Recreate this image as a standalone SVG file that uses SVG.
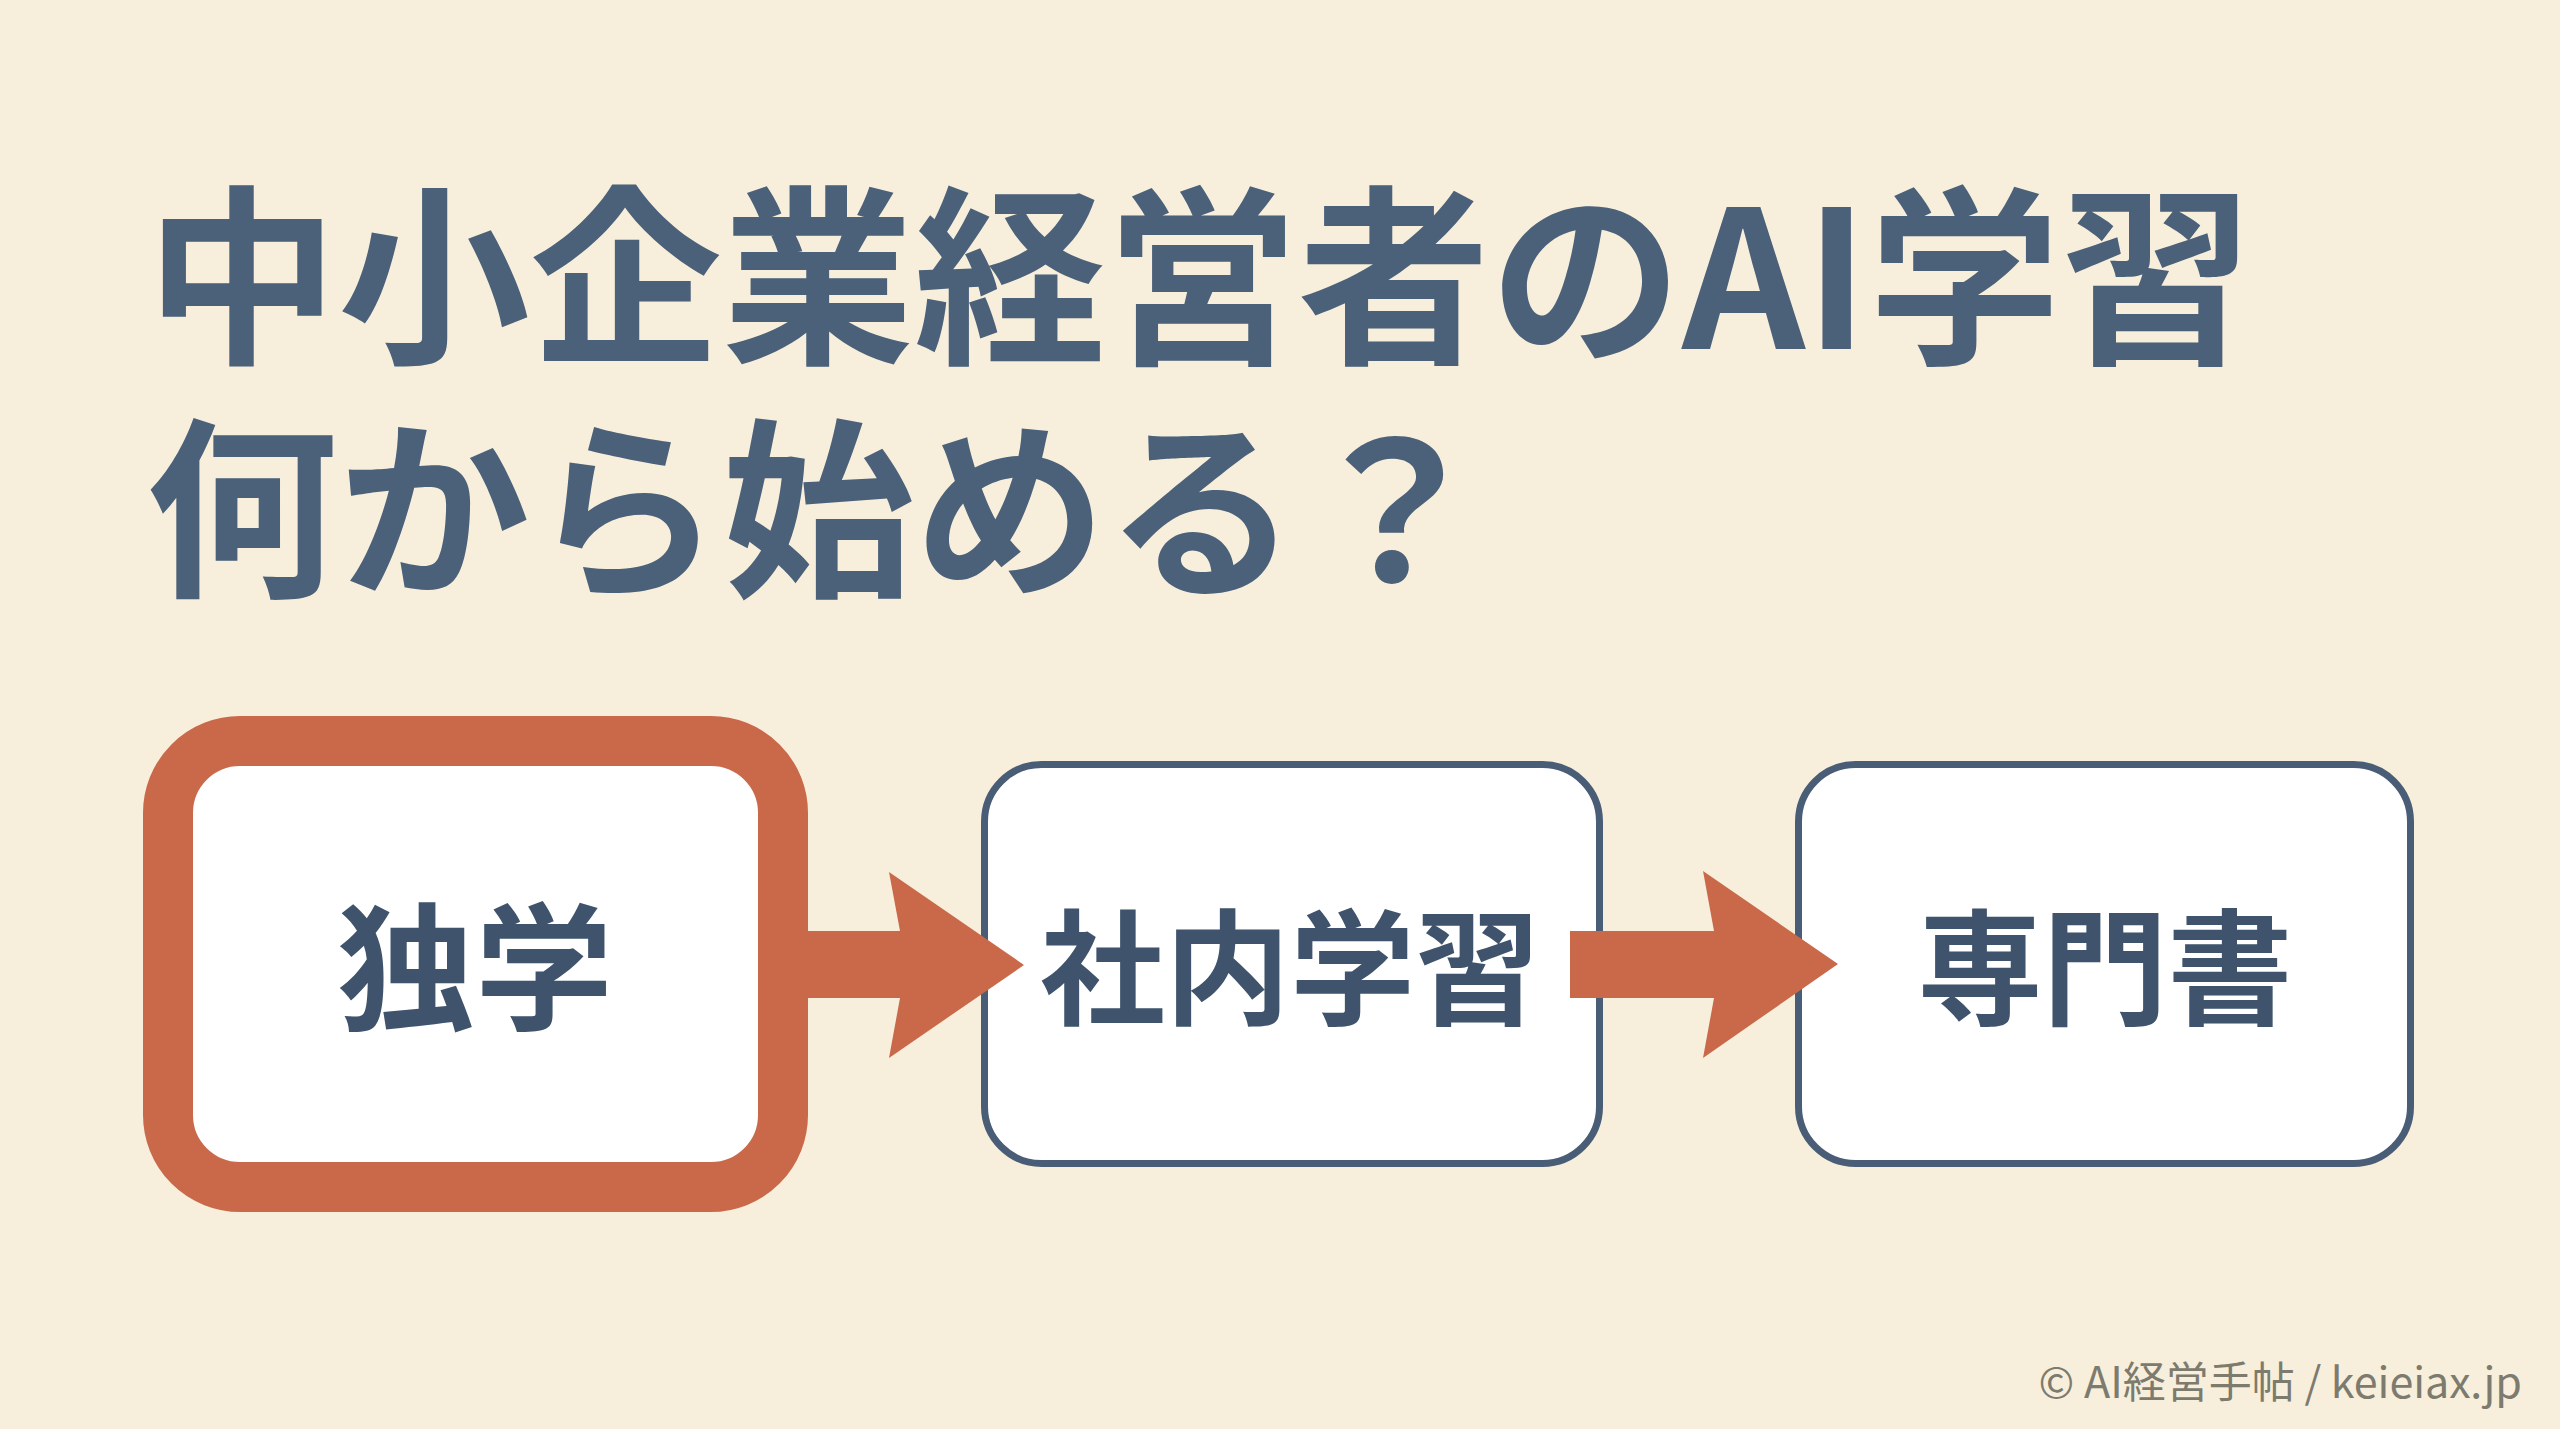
<svg xmlns="http://www.w3.org/2000/svg" width="2560" height="1429" viewBox="0 0 2560 1429">
<style>
.title{font-family:"Noto Sans CJK JP","Noto Sans",sans-serif;font-weight:700;font-size:192px;fill:#4b6079}
.lbl{font-family:"Noto Sans CJK JP","Noto Sans",sans-serif;font-weight:700;fill:#3f536c;text-anchor:middle}
.box{fill:#ffffff;stroke:#4a5d76;stroke-width:7}
.arrow{fill:#c9694a}
.foot{font-family:"Noto Sans CJK JP","Noto Sans",sans-serif;font-weight:400;font-size:43px;fill:#7d7a6e;text-anchor:end}
</style>
<rect x="0" y="0" width="2560" height="1429" fill="#f7efdc"/>
<g id="title">
<text class="title" x="146" y="349">中小企業経営者のAI学習</text>
<text class="title" x="146" y="582">何から始める？</text>
</g>
<g id="node-dokugaku">
<rect x="168" y="741" width="615" height="446" rx="72" ry="72" fill="#ffffff" stroke="#c9694a" stroke-width="50"/>
<text class="lbl" x="475" y="1019" font-size="138">独学</text>
</g>
<g id="node-shanai">
<rect class="box" x="984.5" y="764.5" width="615" height="399" rx="57" ry="57"/>
<text class="lbl" x="1290" y="1015" font-size="125">社内学習</text>
</g>
<g id="node-senmon">
<rect class="box" x="1798.5" y="764.5" width="612" height="399" rx="57" ry="57"/>
<text class="lbl" x="2105" y="1015" font-size="125">専門書</text>
</g>
<g id="connectors">
<polygon class="arrow" points="807,931 900,931 889,872 1024,965 889,1058 900,998 807,998"/>
<polygon class="arrow" points="1570,931 1714,931 1703,871 1838,964 1703,1058 1714,998 1570,998"/>
</g>
<g id="footer">
<text class="foot" x="2522" y="1398">© AI経営手帖 / keieiax.jp</text>
</g>
</svg>
